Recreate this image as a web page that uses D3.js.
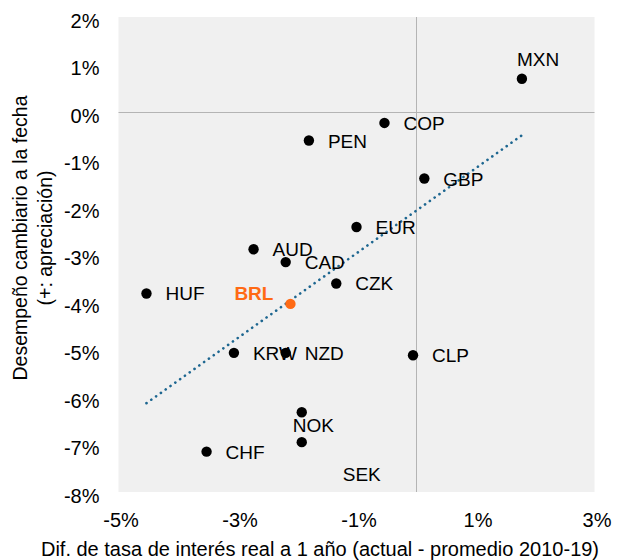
<!DOCTYPE html>
<html>
<head>
  <title>Desempeño cambiario vs tasa real</title>
  <meta charset="utf-8">
  <style type="text/css">
    body {
      margin: 0;
      background: white;
    }
    svg text {
      font-family: "Liberation Sans", Arial, sans-serif;
      fill: black;
    }
  </style>
  <script src="https://cdn.jsdelivr.net/npm/d3@7"></script>
</head>
<body>
  <div id="chart"></div>
  <script type="text/javascript">
    // values, in %
    var codes = ["MXN", "COP", "PEN", "GBP", "EUR", "AUD", "CAD", "CZK", "HUF", "BRL", "KRW", "NZD", "CLP", "NOK", "SEK", "CHF"];
    var rateDiff = [1.78, -0.53, -1.80, 0.14, -1.00, -2.73, -2.19, -1.34, -4.53, -2.11, -3.06, -2.19, -0.05, -1.92, -1.92, -3.52];
    var fxPerf = [0.70, -0.23, -0.60, -1.40, -2.42, -2.89, -3.16, -3.61, -3.82, -4.04, -5.07, -5.07, -5.12, -6.32, -6.95, -7.15];
    var trendX = [-4.53, 1.78];
    var trendY = [-6.13, -0.49];
    var xTicks = [-5, -3, -1, 1, 3];
    var yTicks = [2, 1, 0, -1, -2, -3, -4, -5, -6, -7, -8];

    var highlight = "BRL";
    // where each label sits relative to its dot (default: right)
    var labelPlace = {
      MXN: {dx: -5, dy: -13},
      BRL: {dx: -17, dy: -4, anchor: "end"},
      NOK: {dx: -9, dy: 20},
      SEK: {dx: 41, dy: 39}
    };

    var width = 630, height = 560;
    var plot = {left: 118.5, right: 594.5, top: 17, bottom: 492};

    var x = d3.scaleLinear().domain([-5, 3]).range([plot.left, plot.right]);
    var y = d3.scaleLinear().domain([-8, 2]).range([plot.bottom, plot.top]);
    var pct = function (d) { return d + "%"; };

    var svg = d3.select("#chart").append("svg")
      .attr("width", width)
      .attr("height", height);

    svg.append("rect")
      .attr("x", plot.left)
      .attr("y", plot.top)
      .attr("width", plot.right - plot.left)
      .attr("height", plot.bottom - plot.top)
      .style("fill", "#f0f0f0");

    // zero lines
    svg.append("line")
      .attr("x1", Math.round(x(0)) + 0.5).attr("x2", Math.round(x(0)) + 0.5)
      .attr("y1", plot.top).attr("y2", plot.bottom)
      .style("stroke", "#b4b4b4");
    svg.append("line")
      .attr("x1", plot.left).attr("x2", plot.right)
      .attr("y1", Math.round(y(0)) + 0.5).attr("y2", Math.round(y(0)) + 0.5)
      .style("stroke", "#b4b4b4");

    var xAxis = svg.append("g")
      .attr("transform", "translate(0," + plot.bottom + ")")
      .call(d3.axisBottom(x).tickValues(xTicks).tickFormat(pct).tickSize(0).tickPadding(21));
    xAxis.select(".domain").remove();
    xAxis.selectAll("text")
      .attr("dx", 2)
      .style("font-size", "20px");

    var yAxis = svg.append("g")
      .attr("transform", "translate(" + plot.left + ",0)")
      .call(d3.axisLeft(y).tickValues(yTicks).tickFormat(pct).tickSize(0).tickPadding(19));
    yAxis.select(".domain").remove();
    yAxis.selectAll("text")
      .attr("dy", "0.5em")
      .style("font-size", "20px");

    // trend line
    svg.append("line")
      .attr("x1", x(trendX[0])).attr("y1", y(trendY[0]))
      .attr("x2", x(trendX[1])).attr("y2", y(trendY[1]))
      .style("stroke", "#1d6690")
      .style("stroke-width", 2.6)
      .style("stroke-linecap", "round")
      .style("stroke-dasharray", "0.1 5.8");

    var points = codes.map(function (c, i) {
      return {code: c, x: rateDiff[i], y: fxPerf[i]};
    });

    svg.selectAll("circle.pt")
      .data(points)
      .enter()
      .append("circle")
      .attr("class", "pt")
      .attr("r", 5.2)
      .attr("cx", function (d) { return x(d.x); })
      .attr("cy", function (d) { return y(d.y); })
      .style("fill", function (d) { return d.code === highlight ? "#ff6a14" : "black"; });

    svg.selectAll("text.lbl")
      .data(points)
      .enter()
      .append("text")
      .attr("class", "lbl")
      .attr("x", function (d) { return x(d.x) + (labelPlace[d.code] ? labelPlace[d.code].dx : 19); })
      .attr("y", function (d) { return y(d.y) + (labelPlace[d.code] ? labelPlace[d.code].dy : 7); })
      .attr("text-anchor", function (d) { return labelPlace[d.code] && labelPlace[d.code].anchor || "start"; })
      .style("font-size", "19px")
      .style("font-weight", function (d) { return d.code === highlight ? "bold" : "normal"; })
      .style("fill", function (d) { return d.code === highlight ? "#ff6a14" : "black"; })
      .text(function (d) { return d.code; });

    // axis titles
    svg.append("text")
      .attr("x", 320)
      .attr("y", 556)
      .attr("text-anchor", "middle")
      .style("font-size", "20px")
      .text("Dif. de tasa de interés real a 1 año (actual - promedio 2010-19)");

    var yTitle = svg.append("text")
      .attr("transform", "translate(0,238) rotate(-90)")
      .attr("text-anchor", "middle")
      .style("font-size", "19.5px");
    yTitle.append("tspan").attr("x", 0).attr("y", 27).text("Desempeño cambiario a la fecha");
    yTitle.append("tspan").attr("x", 0).attr("y", 52).text("(+: apreciación)");
  </script>
</body>
</html>
